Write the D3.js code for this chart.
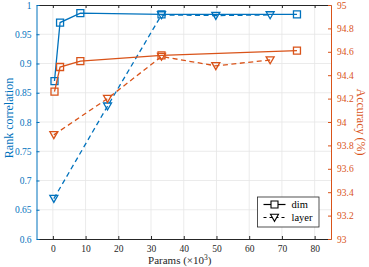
<!DOCTYPE html>
<html>
<head>
<meta charset="utf-8">
<script src="https://cdn.jsdelivr.net/npm/d3@7"></script>
<style>
  body { margin: 0; background: #fff; }
  text { font-family: "Liberation Serif", "DejaVu Serif", serif; }
</style>
</head>
<body>
<div id="chart"></div>
<script>
// params (x10^3)
var dimParams = [0.5, 2.2, 8.4, 33.2, 74.6];
var layerParams = [0.3, 16.7, 33.2, 49.8, 66.4];
// rank correlation (left axis)
var dimRank = [0.870, 0.970, 0.986, 0.984, 0.984];
var layerRank = [0.669, 0.827, 0.983, 0.982, 0.983];
// accuracy % (right axis)
var dimAcc = [94.26, 94.47, 94.52, 94.57, 94.61];
var layerAcc = [93.89, 94.20, 94.56, 94.48, 94.53];

var xTicks = [0, 10, 20, 30, 40, 50, 60, 70, 80];
var leftTicks = [0.6, 0.65, 0.7, 0.75, 0.8, 0.85, 0.9, 0.95, 1];
var rightTicks = [93, 93.2, 93.4, 93.6, 93.8, 94, 94.2, 94.4, 94.6, 94.8, 95];

var blue = "#0072BD", orange = "#D95319", dark = "#262626";

var W = 369, H = 267;
var margin = {top: 5, right: 38, bottom: 28, left: 36.5};
var width = W - margin.left - margin.right,
    height = H - margin.top - margin.bottom;

var svg = d3.select("#chart").append("svg")
    .attr("width", W).attr("height", H);
var g = svg.append("g")
    .attr("transform", "translate(" + margin.left + "," + margin.top + ")");

var x = d3.scaleLinear().domain([-5, 85]).range([0, width]);
var yL = d3.scaleLinear().domain([0.6, 1]).range([height, 0]);
var yR = d3.scaleLinear().domain([93, 95]).range([height, 0]);

// grid
g.append("g").selectAll("line").data(xTicks).enter().append("line")
    .attr("x1", d => x(d)).attr("x2", d => x(d))
    .attr("y1", 0).attr("y2", height)
    .attr("stroke", "#e6e6e6").attr("stroke-width", 0.8);
g.append("g").selectAll("line").data(leftTicks.slice(1, -1)).enter().append("line")
    .attr("x1", 0).attr("x2", width)
    .attr("y1", d => yL(d)).attr("y2", d => yL(d))
    .attr("stroke", "#e6e6e6").attr("stroke-width", 0.8);

function styleAxis(sel, color) {
    sel.select(".domain").attr("stroke", color).attr("stroke-width", 1);
    sel.selectAll(".tick line").attr("stroke", color);
    sel.selectAll(".tick text").attr("fill", color)
        .style("font-family", "'Liberation Serif', serif").style("font-size", "9.5px");
}

var fmtL = d => d3.format("")(+d.toFixed(2));
var fmtR = d => d3.format("")(+d.toFixed(1));

var gx = g.append("g").attr("transform", "translate(0," + height + ")")
    .call(d3.axisBottom(x).tickValues(xTicks).tickSizeInner(-3).tickSizeOuter(0).tickPadding(6));
styleAxis(gx, dark);
var gxt = g.append("g")
    .call(d3.axisTop(x).tickValues(xTicks).tickSizeInner(-3).tickSizeOuter(0).tickFormat(""));
styleAxis(gxt, dark);

var gl = g.append("g")
    .call(d3.axisLeft(yL).tickValues(leftTicks).tickFormat(fmtL).tickSizeInner(-3).tickSizeOuter(0).tickPadding(5));
styleAxis(gl, blue);
var gr = g.append("g").attr("transform", "translate(" + width + ",0)")
    .call(d3.axisRight(yR).tickValues(rightTicks).tickFormat(fmtR).tickSizeInner(-3).tickSizeOuter(0).tickPadding(6));
styleAxis(gr, orange);

// series
function zip(xs, ys) { return xs.map((v, i) => [v, ys[i]]); }

function drawSeries(data, yScale, color, dashed, marker) {
    var line = d3.line().x(d => x(d[0])).y(d => yScale(d[1]));
    g.append("path").datum(data)
        .attr("d", line).attr("fill", "none")
        .attr("stroke", color).attr("stroke-width", 1.3)
        .attr("stroke-dasharray", dashed ? "5,3.5" : null);
    var m = g.append("g").selectAll("path").data(data).enter().append("path")
        .attr("transform", d => "translate(" + x(d[0]) + "," + yScale(d[1]) + ")")
        .attr("fill", "none").attr("stroke", color).attr("stroke-width", 1.3);
    if (marker === "square") m.attr("d", "M-3.5,-3.5H3.5V3.5H-3.5Z");
    else m.attr("d", "M-4,-3.2H4L0,3.8Z");
}

drawSeries(zip(dimParams, dimRank), yL, blue, false, "square");
drawSeries(zip(layerParams, layerRank), yL, blue, true, "tri");
drawSeries(zip(dimParams, dimAcc), yR, orange, false, "square");
drawSeries(zip(layerParams, layerAcc), yR, orange, true, "tri");

// axis labels
g.append("text")
    .attr("transform", "translate(" + (-24) + "," + (height / 2 - 4) + ") rotate(-90)")
    .attr("text-anchor", "middle").attr("fill", blue).style("font-size", "12px")
    .text("Rank correlation");
g.append("text")
    .attr("transform", "translate(" + (width + 26) + "," + (height / 2) + ") rotate(90)")
    .attr("text-anchor", "middle").attr("fill", orange).style("font-size", "12px")
    .text("Accuracy (%)");
var xl = g.append("text")
    .attr("x", width / 2 - 4).attr("y", height + 25)
    .attr("text-anchor", "middle").attr("fill", dark).style("font-size", "11px")
    .text("Params (×10");
xl.append("tspan").attr("dy", -4).style("font-size", "7.5px").text("3");
xl.append("tspan").attr("dy", 4).text(")");

// legend
var lg = svg.append("g").attr("transform", "translate(257.5,197)");
lg.append("rect").attr("width", 61.5).attr("height", 30)
    .attr("fill", "#fff").attr("stroke", dark).attr("stroke-width", 0.8);
var legendItems = [{name: "dim", dashed: false, marker: "square"}, {name: "layer", dashed: true, marker: "tri"}];
legendItems.forEach(function (d, i) {
    var yy = 7.5 + i * 13;
    lg.append("line").attr("x1", 6).attr("x2", 28).attr("y1", yy).attr("y2", yy)
        .attr("stroke", "#000").attr("stroke-width", 1.2)
        .attr("stroke-dasharray", d.dashed ? "3,3" : null);
    lg.append("path").attr("transform", "translate(17," + yy + ")")
        .attr("d", d.marker === "square" ? "M-3.5,-3.5H3.5V3.5H-3.5Z" : "M-4,-3.2H4L0,3.8Z")
        .attr("fill", "#fff").attr("stroke", "#000").attr("stroke-width", 1.1);
    lg.append("text").attr("x", 34).attr("y", yy + 3.5)
        .attr("fill", "#000").style("font-size", "10.5px").text(d.name);
});
</script>
</body>
</html>
